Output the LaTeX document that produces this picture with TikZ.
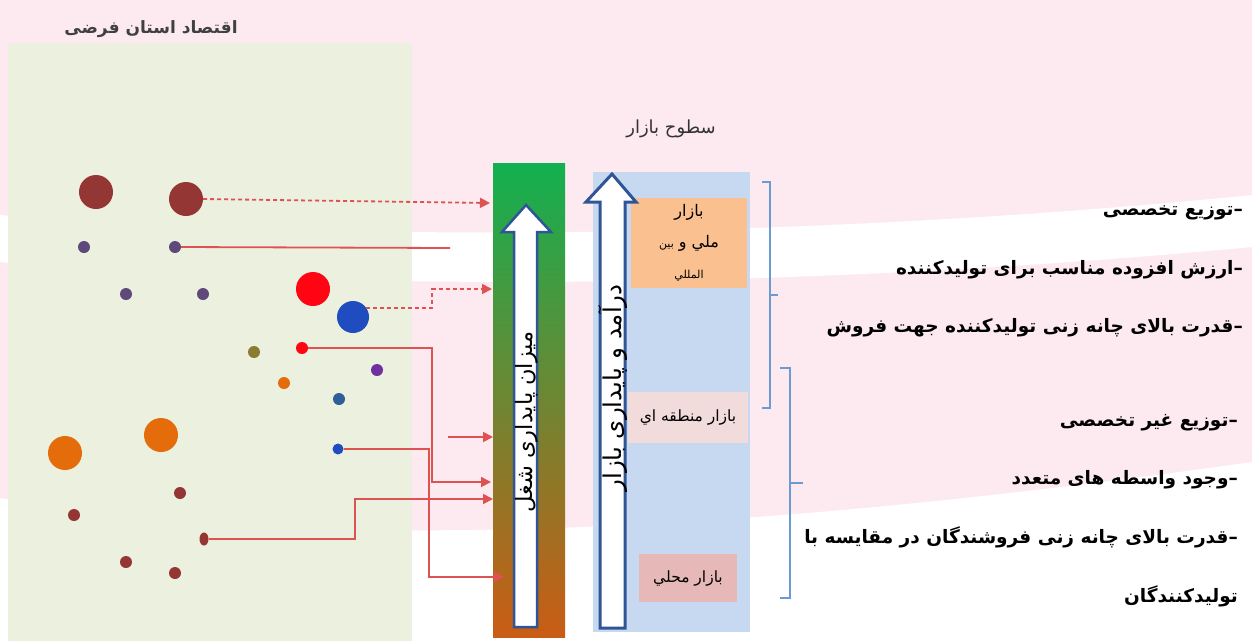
\documentclass[tikz,border=0pt]{standalone}
\usepackage{fontspec}
\newfontfamily\farsi[Script=Arabic]{DejaVu Sans}
\TeXXeTstate=1
\newcommand{\fatext}[1]{\beginR #1\endR}
\usetikzlibrary{arrows.meta,shapes.geometric}

\definecolor{bgpink}{RGB}{253,234,241}
\definecolor{panelgreen}{RGB}{235,240,223}
\definecolor{brownred}{RGB}{148,54,52}
\definecolor{dullviolet}{RGB}{95,73,122}
\definecolor{brightred}{RGB}{255,5,20}
\definecolor{royalblue}{RGB}{31,77,192}
\definecolor{olivedot}{RGB}{138,122,50}
\definecolor{purpledot}{RGB}{112,48,160}
\definecolor{orangedot}{RGB}{228,108,10}
\definecolor{steeldot}{RGB}{47,94,152}
\definecolor{linkred}{RGB}{222,82,82}
\definecolor{jobgreen}{RGB}{18,176,80}
\definecolor{jobolive}{RGB}{128,148,58}
\definecolor{joborange}{RGB}{202,92,20}
\definecolor{marketblue}{RGB}{198,217,241}
\definecolor{arrowblue}{RGB}{47,85,151}
\definecolor{intlorange}{RGB}{250,192,144}
\definecolor{regionpink}{RGB}{242,220,219}
\definecolor{localpink}{RGB}{230,185,184}
\definecolor{bracketblue}{RGB}{108,155,210}

\begin{document}
\begin{tikzpicture}[x=1pt,y=-1pt,
    dot/.style={circle, inner sep=0pt, minimum size=12pt},
    bigdot/.style={circle, inner sep=0pt, minimum size=34pt},
    link/.style={linkred, line width=1.8pt},
    dashlink/.style={link, dash pattern=on 4pt off 3pt},
    tip/.style={-{Triangle[length=10pt,width=10pt]}},
    blockarrow/.style={fill=white, draw=arrowblue, line width=2.5pt, line join=miter},
    mktbox/.style={inner sep=0pt, font=\farsi\fontsize{15.5}{20}\selectfont, align=center},
    bracket/.style={bracketblue, line width=1.8pt},
    point/.style={anchor=east, inner sep=0pt, font=\farsi\bfseries\fontsize{18.5}{22}\selectfont}]

\useasboundingbox (0,0) rectangle (1252,641);
% background
\fill[bgpink] (0,0) rectangle (1252,641);
\fill[white] (0,215) .. controls (400,245) and (850,235) .. (1252,195) -- (1252,247) .. controls (850,285) and (400,295) .. (0,262) -- cycle;
\fill[white] (0,498) .. controls (300,550) and (700,540) .. (1252,462) -- (1252,641) -- (0,641) -- cycle;

% the province
\fill[panelgreen] (8,43) rectangle (412,641);
\node[font=\farsi\bfseries\fontsize{17}{20}\selectfont, text=black!75] (econ) at (151,29) {\fatext{اقتصاد استان فرضی}};

\node[bigdot, fill=brownred] (brownA) at (96,192) {};
\node[bigdot, fill=brownred] (brownB) at (186,199) {};
\node[dot, fill=dullviolet] (violetA) at (84,247) {};
\node[dot, fill=dullviolet] (violetB) at (175,247) {};
\node[dot, fill=dullviolet] (violetC) at (126,294) {};
\node[dot, fill=dullviolet] (violetD) at (203,294) {};
\node[bigdot, fill=brightred] (redbig) at (313,289) {};
\node[bigdot, minimum size=32pt, fill=royalblue] (bluebig) at (353,317) {};
\node[dot, fill=olivedot] (olive) at (254,352) {};
\node[dot, fill=brightred] (redsmall) at (302,348) {};
\node[dot, fill=purpledot] (purple) at (377,370) {};
\node[dot, fill=orangedot] (orangesmall) at (284,383) {};
\node[dot, fill=steeldot] (steel) at (339,399) {};
\node[bigdot, fill=orangedot] (orangeA) at (65,453) {};
\node[bigdot, fill=orangedot] (orangeB) at (161,435) {};
\node[dot, minimum size=11pt, fill=royalblue] (bluesmall) at (338,449) {};
\node[dot, fill=brownred] (brownC) at (180,493) {};
\node[dot, fill=brownred] (brownD) at (74,515) {};
\node[ellipse, inner sep=0pt, minimum width=9pt, minimum height=13pt, fill=brownred] (brownE) at (204,539) {};
\node[dot, fill=brownred] (brownF) at (126,562) {};
\node[dot, fill=brownred] (brownG) at (175,573) {};

% job stability bar
\node[minimum width=72pt, minimum height=474pt, inner sep=0pt, top color=jobgreen, middle color=jobolive, bottom color=joborange] (jobbar) at (529,400) {};
\draw[blockarrow] (514,627) -- (514,232) -- (502,232) -- (526,205) -- (551,232) -- (537,232) -- (537,627) -- cycle;
\node[rotate=90, font=\farsi\fontsize{22.5}{24}\selectfont] (jobtxt) at (527,422) {\fatext{میزان پایداری شغل}};

% links
\coordinate (t1) at (490,203);
\coordinate (e2) at (450,248);
\coordinate (t3) at (492,289);
\coordinate (t4) at (491,482);
\coordinate (t5) at (504,577);
\coordinate (t6) at (493,499);
\coordinate (s7) at (448,437);
\coordinate (t7) at (493,437);
\draw[dashlink, tip] (brownB.east) -- (t1);
\draw[link] (violetB.east) -- (e2);
\draw[dashlink, tip] (bluebig.35) -- ++(66,0) |- (t3);
\draw[link, tip] (redsmall.east) -- ++(124,0) |- (t4);
\draw[link, tip] (bluesmall.east) -- ++(85,0) |- (t5);
\draw[link, tip] (brownE.east) -- ++(146,0) |- (t6);
\draw[link, tip] (s7) -- (t7);

% market levels
\node[font=\farsi\fontsize{18}{20}\selectfont, text=black!80] (mkttitle) at (671,129) {\fatext{سطوح بازار}};
\node[fill=marketblue, minimum width=157pt, minimum height=460pt, inner sep=0pt] (mktpanel) at (671.5,402) {};
\node[mktbox, fill=intlorange, minimum width=116pt, minimum height=90pt, font=\farsi\fontsize{16}{31}\selectfont] (intl) at (689,243)
  {\fatext{بازار}\\ \fatext{ملي و {\fontsize{11}{12}\selectfont بين}}\\ {\fontsize{11}{12}\selectfont\fatext{المللي}}};
\node[mktbox, fill=regionpink, minimum width=120pt, minimum height=51pt] (region) at (688,417) {\fatext{بازار منطقه اي}};
\node[mktbox, fill=localpink, minimum width=98pt, minimum height=48pt] (local) at (688,578) {\fatext{بازار محلي}};
\draw[blockarrow, line width=3pt] (600,628) -- (600,202) -- (586,202) -- (612,174) -- (636,202) -- (625,202) -- (625,628) -- cycle;
\node[rotate=90, font=\farsi\fontsize{24.5}{26}\selectfont] (mkttxt) at (613,388) {\fatext{درآمد و پایداری بازار}};

% brackets
\draw[bracket] (762,182) -- (770,182) -- (770,408) -- (762,408);
\draw[bracket] (770,295) -- (778,295);
\draw[bracket] (780,368) -- (790,368) -- (790,598) -- (780,598);
\draw[bracket] (790,483) -- (803,483);

% features
\node[point] (p1) at (1243,213) {\fatext{–توزیع تخصصی}};
\node[point] (p2) at (1243,270) {\fatext{–ارزش افزوده مناسب برای تولیدکننده}};
\node[point] (p3) at (1243,328) {\fatext{–قدرت بالای چانه زنی تولیدکننده جهت فروش}};
\node[point] (p4) at (1238,423) {\fatext{–توزیع غیر تخصصی}};
\node[point] (p5) at (1238,480) {\fatext{–وجود واسطه های متعدد}};
\node[point] (p6) at (1238,537) {\fatext{–قدرت بالای چانه زنی فروشندگان در مقایسه با}};
\node[point] (p7) at (1238,596) {\fatext{تولیدکنندگان}};
\end{tikzpicture}
\end{document}
